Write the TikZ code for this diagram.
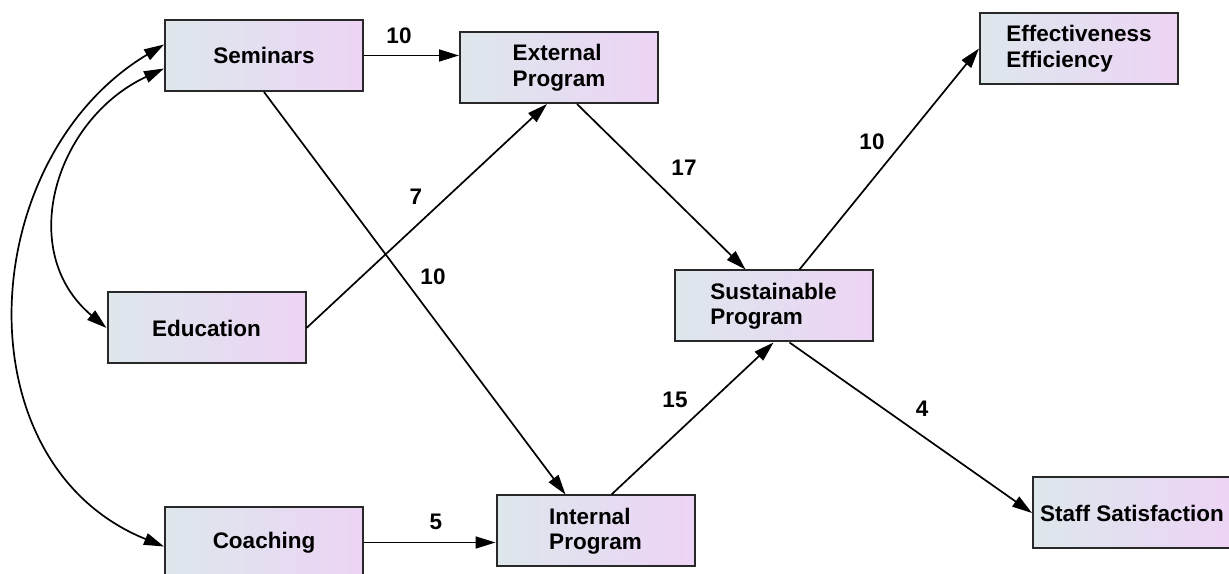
\documentclass[tikz,border=0pt]{standalone}
\usepackage{fontspec}
\setmainfont{Liberation Sans}
\usetikzlibrary{positioning}
\usetikzlibrary{arrows.meta}
\definecolor{boxleft}{RGB}{221,231,236}
\definecolor{boxright}{RGB}{237,212,245}
\definecolor{boxline}{RGB}{40,40,40}

\begin{document}
\begin{tikzpicture}[x=1pt, y=1pt,
    >={Triangle[length=20pt, width=12pt]},
    boxnode/.style={rectangle, draw=boxline, line width=2pt,
      left color=boxleft, right color=boxright, minimum width=198pt,
      minimum height=71pt, inner sep=4pt, align=left,
      font=\fontsize{22.5}{25.5}\selectfont\bfseries},
    weightlabel/.style={inner sep=0pt,
      font=\fontsize{22.5}{25.5}\selectfont\bfseries},
    link/.style={line width=1.7pt}]
  \useasboundingbox (0,0) rectangle (1229,573);
  \clip (0,0) rectangle (1229,573);
  \fill[white] (0,0) rectangle (1229,573);
  % boxes
  \node[boxnode] (seminars) at (264,517.5) {Seminars};
  \node[boxnode] (external) at (559,505.5) {External\\Program};
  \node[boxnode] (education) at (206.5,245) {Education};
  \node[boxnode] (coaching) at (264,30.5) {Coaching};
  \node[boxnode] (internal) at (595.5,42) {Internal\\Program};
  \node[boxnode] (sustain) at (773.5,267) {Sustainable\\Program};
  \node[boxnode] (effect) at (1079,524.5) {Effectiveness\\Efficiency};
  \node[boxnode] (staff) at (1132,60) {Staff Satisfaction};
  % paths
  \draw[link, ->] (seminars.east) -- (seminars.east -| external.west);
  \draw[link, ->] (seminars.south) -- ([xshift=-30pt]internal.north);
  \draw[link, ->] (education.east) -- ([xshift=-12pt]external.south);
  \draw[link, ->] ([xshift=18pt]external.south) -- ([xshift=-28pt]sustain.north);
  \draw[link, ->] (coaching.east) -- (coaching.east -| internal.west);
  \draw[link, ->] ([xshift=16pt]internal.north) -- (sustain.south);
  \draw[link, ->] ([xshift=26pt]sustain.north) -- (effect.west);
  \draw[link, ->] ([xshift=16pt]sustain.south) -- (staff.west);
  % covariances
  \draw[link, <->] ([yshift=-13pt]seminars.west) to[out=205, in=140, looseness=1.15] (education.west);
  \draw[link, <->] ([yshift=11pt]seminars.west) to[out=211, in=158, looseness=1.13] ([yshift=-4pt]coaching.west);
  % weights
  \node[weightlabel] (w_sem_ext) at (399,537) {10};
  \node[weightlabel] (w_edu_ext) at (416,376) {7};
  \node[weightlabel] (w_sem_int) at (433,296) {10};
  \node[weightlabel] (w_ext_sus) at (684,405) {17};
  \node[weightlabel] (w_int_sus) at (675,173) {15};
  \node[weightlabel] (w_coa_int) at (436,51) {5};
  \node[weightlabel] (w_sus_eff) at (872,431) {10};
  \node[weightlabel] (w_sus_sta) at (922,164) {4};
\end{tikzpicture}
\end{document}
